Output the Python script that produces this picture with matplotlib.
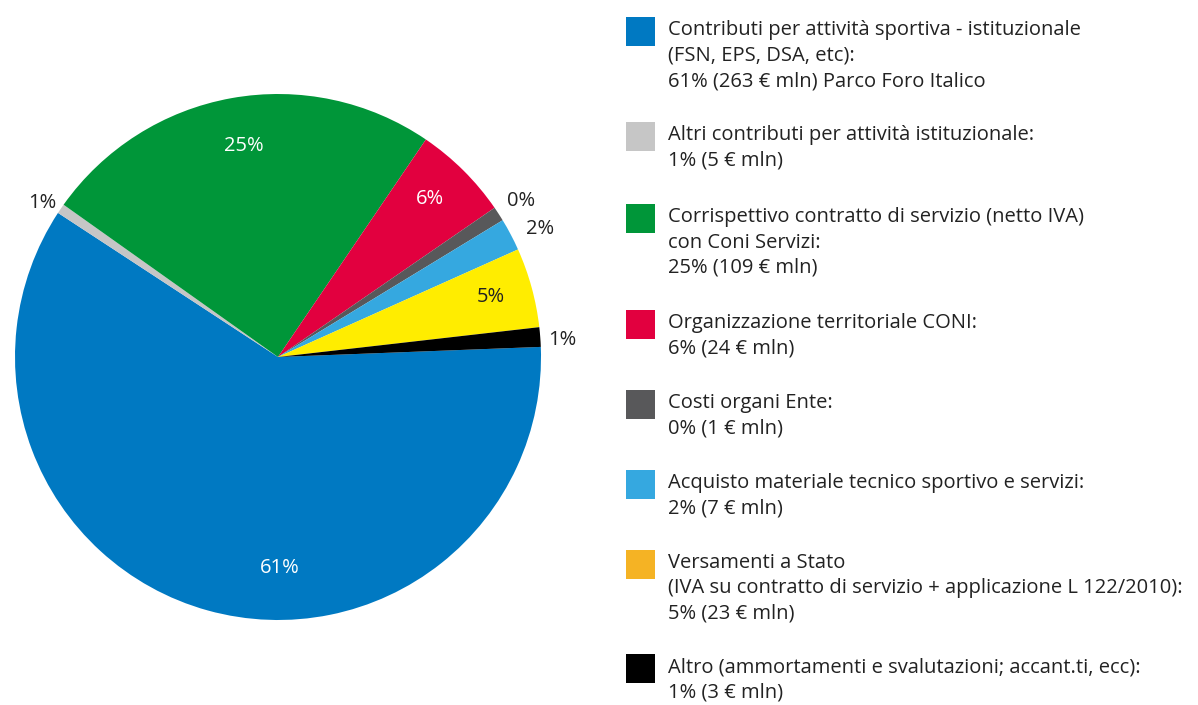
import matplotlib
matplotlib.use("Agg")
import matplotlib.pyplot as plt
from matplotlib.patches import Rectangle

plt.rcParams['font.family'] = ['Open Sans', 'DejaVu Sans']

# shares as drawn in the pie (%)
shares = [59.9, 0.6, 24.7, 5.9, 0.9, 2.0, 4.9, 1.2]
pct_labels = ["61%", "1%", "25%", "6%", "0%", "2%", "5%", "1%"]
pie_colors = ["#0079C2", "#C6C6C6", "#009639", "#E2003F", "#58585A", "#35A8E0", "#FFED00", "#000000"]
legend_colors = ["#0079C2", "#C6C6C6", "#009639", "#E2003F", "#58585A", "#35A8E0", "#F5B324", "#000000"]
label_colors = ["white", "#222222", "white", "white", "#222222", "#222222", "#222222", "#222222"]
# label positions in pie units (radius = 1)
label_pos = [(0.008, -0.802), (-0.897, 0.586), (-0.129, 0.802), (0.578, 0.601),
             (0.924, 0.593), (0.996, 0.487), (0.810, 0.228), (1.080, 0.065)]

legend_texts = [
    ["Contributi per attività sportiva - istituzionale", "(FSN, EPS, DSA, etc):",
     "61% (263 € mln) Parco Foro Italico"],
    ["Altri contributi per attività istituzionale:", "1% (5 € mln)"],
    ["Corrispettivo contratto di servizio (netto IVA)", "con Coni Servizi:", "25% (109 € mln)"],
    ["Organizzazione territoriale CONI:", "6% (24 € mln)"],
    ["Costi organi Ente:", "0% (1 € mln)"],
    ["Acquisto materiale tecnico sportivo e servizi:", "2% (7 € mln)"],
    ["Versamenti a Stato", "(IVA su contratto di servizio + applicazione L 122/2010):", "5% (23 € mln)"],
    ["Altro (ammortamenti e svalutazioni; accant.ti, ecc):", "1% (3 € mln)"],
]
legend_top = [30, 135, 217, 323, 403, 483, 563, 667]

W, H = 1198, 705
fig = plt.figure(figsize=(W / 100, H / 100), dpi=100)

ax = fig.add_axes([15 / W, (H - 620) / H, 526 / W, 526 / H])
ax.pie(shares, colors=pie_colors, startangle=2.2, counterclock=False,
       wedgeprops=dict(linewidth=0), radius=1)
ax.set_xlim(-1, 1)
ax.set_ylim(-1, 1)
ax.set_aspect('equal')
ax.axis('off')
for lab, (x, y), c in zip(pct_labels, label_pos, label_colors):
    ax.text(x, y, lab, color=c, fontsize=14.5, ha='center', va='center')

lg = fig.add_axes([0, 0, 1, 1])
lg.set_xlim(0, W)
lg.set_ylim(H, 0)
lg.axis('off')
for lines, y0, col in zip(legend_texts, legend_top, legend_colors):
    lg.add_patch(Rectangle((626, y0 - 13), 29, 29, color=col, linewidth=0))
    for i, line in enumerate(lines):
        lg.text(668, y0 + i * 25.5, line, fontsize=14.5, color='#222222', va='center', ha='left')

plt.savefig("out.png", dpi=100)
